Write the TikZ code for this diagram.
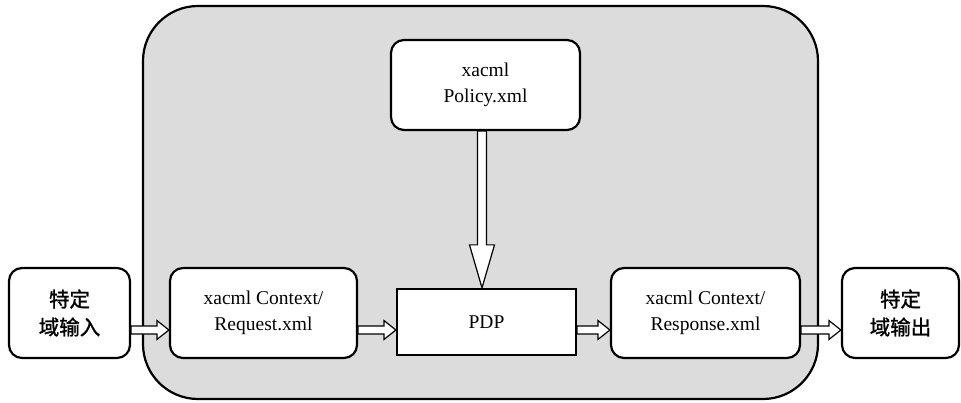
\documentclass[tikz,border=0pt]{standalone}
\usepackage{fontspec}
\setmainfont{Liberation Serif}
\newfontfamily\cjk{Noto Sans CJK SC}[FakeBold=1.2]
\usetikzlibrary{calc}
\definecolor{domgray}{RGB}{220,220,220}
\tikzset{
  rbox/.style={draw=black, line width=2.2pt, fill=white, rounded corners=13pt,
    inner sep=0pt, align=center, minimum height=90pt,
    font=\fontsize{19.5}{26}\selectfont},
  sbox/.style={draw=black, line width=2.2pt, fill=white,
    inner sep=0pt, align=center, font=\fontsize{19.5}{26}\selectfont},
  cbox/.style={rbox, font=\cjk\fontsize{20.5}{28}\selectfont},
  fat/.style={draw=black, line width=1.2pt, fill=white, line join=miter},
}
\begin{document}
\begin{tikzpicture}[x=1pt,y=-1pt]
\useasboundingbox (0,0) rectangle (961,403);
\node[draw=black, line width=2.2pt, fill=domgray, rounded corners=55pt,
  minimum width=675pt, minimum height=393pt, inner sep=0pt] (domain) at (480.5,202.5) {};
\node[cbox, minimum width=121pt] (in) at (69.5,313) {特定\\域输入};
\node[rbox, minimum width=187pt] (req) at (263.5,313) {xacml Context/\\Request.xml};
\node[sbox, minimum width=179pt, minimum height=66pt] (pdp) at (486.5,322) {PDP};
\node[rbox, minimum width=189pt] (pol) at (485.5,85) {xacml\\Policy.xml};
\node[rbox, minimum width=189pt] (resp) at (705.5,313) {xacml Context/\\Response.xml};
\node[cbox, minimum width=117pt] (out) at (900.5,313) {特定\\域输出};
\coordinate (ay) at (0,330);
\coordinate (vx) at (482,0);
\newcommand\harrow[2]{%
  \draw[fat] let \p1=(#1.east|-ay), \p2=(#2.west|-ay) in
    (\x1,\y1+4pt) -- (\x2-12pt,\y2+4pt) -- (\x2-12pt,\y2+9.5pt) -- (\x2,\y2)
    -- (\x2-12pt,\y2-9.5pt) -- (\x2-12pt,\y2-4pt) -- (\x1,\y1-4pt) -- cycle;}
\harrow{in}{req}
\harrow{req}{pdp}
\harrow{pdp}{resp}
\harrow{resp}{out}
\draw[fat] let \p1=(pol.south-|vx), \p2=(pdp.north-|vx) in
  (\x1-4.5pt,\y1) -- (\x2-4.5pt,\y2+43pt) -- (\x2-12.5pt,\y2+43pt) -- (\x2,\y2)
  -- (\x2+12.5pt,\y2+43pt) -- (\x2+4.5pt,\y2+43pt) -- (\x1+4.5pt,\y1) -- cycle;
\end{tikzpicture}
\end{document}
